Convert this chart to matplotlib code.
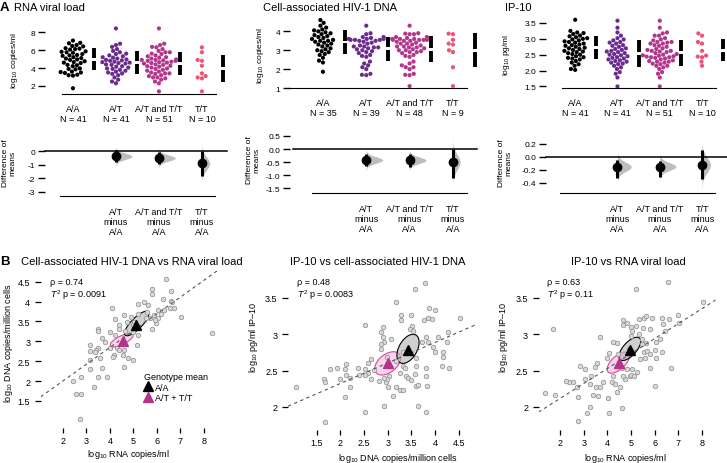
import numpy as np
import pandas as pd
import matplotlib
matplotlib.use("Agg")
import matplotlib.pyplot as plt
import seaborn as sns
from matplotlib.colors import to_rgba
from matplotlib.lines import Line2D
from matplotlib.ticker import FormatStrFormatter

plt.rcParams["font.family"] = ["Liberation Sans", "DejaVu Sans"]
plt.rcParams["mathtext.fontset"] = "custom"
plt.rcParams["mathtext.rm"] = "Liberation Sans"
plt.rcParams["mathtext.it"] = "Liberation Sans:italic"
plt.rcParams["axes.unicode_minus"] = False

W, H = 727, 464

groups = ["A/A", "A/T", "A/T and T/T", "T/T"]
colors = ["#000000", "#6b2a8f", "#b3358c", "#ef5272"]
diff_labels = ["A/T\nminus\nA/A", "A/T and T/T\nminus\nA/A", "T/T\nminus\nA/A"]

# --- panel A, log10 RNA copies/ml
aa_rna = [7.05, 6.8, 6.75, 6.55, 6.45, 6.4, 6.2, 6.15, 6.1, 6.05, 5.85, 5.8, 5.75, 5.7,
          5.55, 5.45, 5.4, 5.35, 5.2, 5.1, 5.05, 4.95, 4.9, 4.75, 4.65, 4.6, 4.55, 4.35,
          4.3, 4.2, 3.95, 3.9, 3.85, 3.6, 3.55, 3.5, 3.45, 3.25, 3.2, 3.15, 1.75]
at_rna = [8.4, 6.7, 6.55, 6.35, 6.1, 5.9, 5.75, 5.6, 5.55, 5.4, 5.3, 5.2, 5.15, 5.05,
          4.95, 4.9, 4.85, 4.8, 4.7, 4.65, 4.6, 4.55, 4.5, 4.4, 4.35, 4.2, 4.15, 4.05,
          3.95, 3.9, 3.8, 3.7, 3.6, 3.5, 3.4, 3.35, 3.2, 2.95, 2.7, 2.5, 2.3]
tt_rna = [6.3, 5.75, 4.9, 4.8, 4.25, 3.4, 3.1, 2.95, 2.85, 1.4]

# --- panel A, cell-associated HIV-1 DNA
aa_dna = [4.6, 4.45, 4.3, 4.2, 4.1, 4.05, 4.0, 3.95, 3.9, 3.85, 3.8, 3.75, 3.7, 3.65,
          3.6, 3.55, 3.5, 3.5, 3.45, 3.4, 3.35, 3.3, 3.25, 3.2, 3.1, 3.05, 3.0, 2.95,
          2.9, 2.8, 2.75, 2.6, 2.45, 2.35, 1.86]
at_dna = [4.3, 3.9, 3.85, 3.6, 3.6, 3.55, 3.55, 3.7, 3.7, 3.65, 3.6, 3.55, 3.5, 3.5,
          3.45, 3.4, 3.35, 3.25, 3.2, 3.2, 3.15, 3.15, 3.1, 3.05, 3.0, 2.95, 2.9, 2.85,
          2.75, 2.7, 2.65, 2.4, 2.3, 2.2, 2.1, 2.0, 1.75, 1.7, 1.68]
tt_dna = [3.88, 3.85, 3.55, 3.35, 3.3, 3.0, 2.9, 2.1, 1.1]

# --- panel A, IP-10 log10 pg/ml
aa_ip = [3.6, 3.25, 3.2, 3.18, 3.15, 3.1, 3.08, 3.05, 3.02, 3.0, 2.98, 2.95, 2.92, 2.9,
         2.88, 2.85, 2.82, 2.8, 2.78, 2.75, 2.72, 2.7, 2.68, 2.65, 2.62, 2.6, 2.58, 2.55,
         2.52, 2.5, 2.45, 2.42, 2.4, 2.38, 2.35, 2.3, 2.25, 2.2, 2.15, 2.05, 2.02]
at_ip = [3.57, 3.35, 3.2, 3.1, 3.02, 2.98, 2.95, 2.9, 2.88, 2.85, 2.8, 2.78, 2.75, 2.7,
         2.68, 2.65, 2.62, 2.6, 2.58, 2.55, 2.52, 2.5, 2.48, 2.45, 2.42, 2.4, 2.38, 2.35,
         2.32, 2.3, 2.28, 2.25, 2.22, 2.2, 2.15, 2.1, 2.05, 1.95, 1.9, 1.78, 1.5]
tt_ip = [3.17, 3.1, 2.9, 2.85, 2.62, 2.47, 2.44, 2.42, 2.28, 2.15]

# difference of means vs A/A and 95% CI (A/T, A/T and T/T, T/T)
diff_rna, lo_rna, hi_rna = [-0.37, -0.5, -0.9], [-0.82, -0.95, -1.85], [0.08, -0.07, 0.0]
diff_dna, lo_dna, hi_dna = [-0.42, -0.43, -0.5], [-0.66, -0.68, -1.1], [-0.18, -0.2, 0.0]
diff_ip, lo_ip, hi_ip = [-0.153, -0.15, -0.126], [-0.33, -0.31, -0.35], [-0.05, -0.07, 0.11]

# --- panel B, DNA vs RNA
b1_x = [6.38, 5.81, 6.59, 5.81, 5.46, 5.18, 6.27, 6.58, 6.65, 6.55, 6.73, 7.01, 4.10, 4.22,
        4.61, 4.90, 4.71, 4.39, 4.39, 4.64, 5.60, 5.88, 6.05, 5.70, 5.98, 5.81, 5.21, 5.04,
        5.06, 4.99, 5.18, 5.14, 5.53, 5.91, 8.34, 3.48, 3.16, 3.48, 3.65, 3.77, 4.01, 4.22,
        4.29, 4.19, 4.39, 4.60, 4.57, 4.61, 4.97, 4.75, 3.48, 3.41, 3.37, 3.16, 3.58, 3.13,
        3.65, 3.86, 3.48, 3.30, 3.16, 2.78, 2.41, 2.56, 2.78, 2.71, 4.01, 4.12, 4.97, 5.56,
        6.05, 6.31, 6.17]
b1_y = [4.56, 4.32, 4.27, 4.18, 3.98, 3.94, 4.06, 4.02, 3.98, 3.83, 3.83, 3.62, 3.83, 3.56,
        3.66, 3.60, 3.49, 3.41, 3.32, 3.26, 3.91, 3.66, 3.58, 3.58, 3.45, 3.32, 3.70, 3.49,
        3.37, 3.24, 3.16, 2.90, 3.58, 3.53, 3.20, 3.32, 2.92, 3.26, 3.09, 2.99, 3.24, 3.16,
        2.82, 2.65, 2.78, 2.78, 2.65, 2.36, 2.53, 2.57, 2.84, 2.78, 2.74, 2.75, 2.58, 2.53,
        2.32, 2.10, 2.11, 1.84, 2.30, 2.11, 2.00, 1.67, 1.68, 1.05, 2.82, 2.61, 3.42, 3.74,
        3.79, 3.79, 3.70]

# --- panel B, IP-10 vs DNA
b2_x = [3.80, 3.58, 3.18, 3.29, 3.29, 3.50, 3.77, 3.86, 3.93, 4.01, 3.87, 3.51, 3.48, 3.53,
        2.90, 2.86, 2.51, 2.90, 2.92, 2.85, 3.07, 3.81, 3.86, 3.73, 3.96, 4.01, 4.17, 4.25,
        4.53, 4.27, 4.06, 3.59, 3.59, 3.32, 3.32, 3.37, 2.86, 2.99, 3.18, 2.65, 2.58, 2.53,
        2.58, 2.72, 2.51, 2.39, 2.37, 2.11, 2.09, 2.12, 1.93, 1.78, 1.66, 1.68, 1.98, 2.21,
        2.21, 2.09, 1.06, 1.68, 2.52, 2.93, 3.12, 3.00, 2.97, 3.26, 3.02, 2.98, 3.17, 3.25,
        3.32, 3.39, 3.43, 3.50, 3.57, 3.60, 3.81, 3.81, 3.64, 3.84, 4.15, 4.29, 4.18, 3.65,
        3.81, 2.65, 2.92, 2.81]
b2_y = [3.71, 3.63, 3.45, 3.26, 3.19, 3.26, 3.19, 3.23, 3.21, 3.33, 3.36, 3.12, 3.07, 3.05,
        3.10, 3.03, 3.13, 2.96, 2.90, 2.86, 2.93, 2.96, 2.90, 2.89, 2.82, 2.75, 2.76, 2.89,
        3.23, 3.03, 2.96, 2.67, 2.57, 2.75, 2.56, 2.53, 2.80, 2.69, 2.63, 2.66, 2.61, 2.52,
        2.47, 2.51, 2.44, 2.44, 2.53, 2.59, 2.52, 2.44, 2.54, 2.52, 2.38, 2.34, 2.38, 2.40,
        2.28, 2.14, 2.28, 1.80, 1.93, 2.01, 2.15, 2.27, 2.34, 2.47, 2.42, 2.38, 2.27, 2.24,
        2.23, 2.43, 2.40, 2.37, 2.46, 2.29, 2.54, 2.43, 2.30, 2.29, 2.57, 2.53, 2.69, 2.01,
        1.93, 2.38, 2.40, 2.36]

# --- panel B, IP-10 vs RNA
b3_x = [6.56, 5.23, 8.04, 1.69, 3.69, 4.67, 4.64, 4.84, 5.02, 5.06, 5.23, 5.34, 5.54, 5.65,
        5.90, 6.33, 6.61, 6.99, 7.01, 6.35, 6.42, 5.82, 5.51, 5.34, 5.48, 5.65, 6.07, 6.21,
        5.02, 4.39, 4.22, 4.43, 4.92, 4.08, 3.97, 3.57, 3.47, 3.05, 2.84, 3.05, 3.29, 3.26,
        3.50, 3.69, 3.59, 3.40, 3.26, 3.12, 2.74, 2.53, 2.39, 2.25, 2.70, 1.79, 1.37, 4.25,
        4.21, 4.32, 4.53, 4.39, 4.74, 4.95, 5.02, 5.12, 5.26, 5.06, 4.81, 4.60, 5.37, 5.58,
        5.79, 5.55, 5.69, 5.79, 5.48, 6.00, 6.33, 6.07, 6.68, 6.03, 4.08, 4.60, 2.77, 4.04,
        3.83, 4.64]
b3_y = [3.72, 3.63, 3.45, 3.07, 2.96, 3.19, 3.13, 3.15, 3.10, 3.04, 3.12, 3.21, 3.23, 3.25,
        3.22, 3.23, 3.21, 3.26, 3.15, 3.14, 3.05, 3.07, 3.08, 3.00, 2.93, 2.88, 2.89, 2.93,
        2.98, 2.88, 2.90, 2.73, 2.80, 2.74, 2.67, 2.61, 2.55, 2.52, 2.56, 2.38, 2.42, 2.31,
        2.28, 2.28, 2.15, 2.16, 2.00, 1.92, 2.14, 2.34, 2.34, 2.36, 2.27, 2.17, 2.19, 2.43,
        2.34, 2.31, 2.27, 2.20, 2.38, 2.43, 2.44, 2.42, 2.48, 2.52, 2.52, 2.53, 2.66, 2.67,
        2.53, 2.76, 2.77, 2.73, 2.86, 2.79, 2.75, 2.68, 2.54, 2.29, 1.92, 1.99, 1.81, 2.13,
        2.34, 2.43]

# regression line (intercept, slope), genotype means and 95% ellipses (cx, cy, sx, sy, rho)
fit1, fit2, fit3 = (1.16, 0.422), (1.76, 0.282), (1.705, 0.206)
mean1 = [(5.1, 3.42), (4.54, 3.0)]
mean2 = [(3.43, 2.79), (3.0, 2.6)]
mean3 = [(4.95, 2.78), (4.5, 2.61)]
ell1 = [(5.14, 3.45, 0.52, 0.31, 0.8), (4.5, 3.03, 0.49, 0.17, 0.72)]
ell2 = [(3.43, 2.8, 0.235, 0.2, 0.45), (3.0, 2.6, 0.275, 0.16, 0.45)]
ell3 = [(4.95, 2.8, 0.46, 0.16, 0.65), (4.46, 2.61, 0.47, 0.145, 0.62)]
stats = [("0.74", "0.0091"), ("0.48", "0.0083"), ("0.63", "0.11")]
tri_colors = ["#000000", "#b5338a"]
ell_face = ["#b8b8b8", "#f3bfe0"]
ell_edge = ["#000000", "#d54a9f"]

fig = plt.figure(figsize=(W / 100, H / 100), dpi=100)


def add_ax(x0, y0, x1, y1):
    return fig.add_axes([x0 / W, 1 - y1 / H, (x1 - x0) / W, (y1 - y0) / H])


def ftext(x, y, s, **kw):
    kw.setdefault("va", "center")
    fig.text(x / W, 1 - y / H, s, **kw)


def swarm_panel(box, xlim, ylim, yticks, fmt, aa, at, tt, base):
    ax = add_ax(*box)
    ax.set_xlim(xlim)
    ax.set_ylim(ylim)
    vals = [aa, at, at + tt, tt]
    df = pd.DataFrame({"group": np.repeat(groups, [len(v) for v in vals]),
                       "value": np.concatenate(vals)})
    sns.swarmplot(data=df, x="group", y="value", hue="group", order=groups,
                  hue_order=groups, palette=colors, size=3.0, ax=ax, legend=False)
    ax.set_xlim(xlim)
    ax.set_ylim(ylim)
    gap = 0.02 * (ylim[1] - ylim[0])
    for i, v in enumerate(vals):
        m, s = np.mean(v), np.std(v, ddof=1)
        ax.vlines([i + 0.5] * 2, [m - s, m + gap], [m - gap, m + s], color="k", lw=2.8)
    ax.set_xticks(range(4))
    ax.set_xticklabels([f"{g}\nN = {len(v)}" for g, v in zip(groups, vals)],
                       fontsize=6.5, linespacing=1.15)
    ax.set_yticks(yticks)
    ax.yaxis.set_major_formatter(FormatStrFormatter(fmt))
    ax.tick_params(axis="x", length=0, pad=7)
    ax.tick_params(axis="y", length=5, width=1, labelsize=6, pad=2)
    for sp in ["top", "right", "left"]:
        ax.spines[sp].set_visible(False)
    ax.spines["bottom"].set_bounds(*base)
    ax.set_xlabel("")
    ax.set_ylabel("")
    return ax


def diff_panel(box, xlim, ylim, yticks, fmt, diffs, lo, hi, base, zspan):
    ax = add_ax(*box)
    sds = [(h - l) / 3.92 for l, h in zip(lo, hi)]
    for i, (d, l, h, s) in enumerate(zip(diffs, lo, hi, sds), start=1):
        yy = np.linspace(d - 4 * s, d + 4 * s, 150)
        w = 0.38 * min(sds) / s
        ax.fill_betweenx(yy, i, i + w * np.exp(-0.5 * ((yy - d) / s) ** 2),
                         color="#bdbdbd", lw=0)
        ax.vlines(i, l, h, color="k", lw=2.2)
        ax.plot(i, d, "o", color="k", ms=6)
    ax.axhline(0, zspan[0], zspan[1], color="k", lw=1.1, clip_on=False)
    ax.set_xlim(xlim)
    ax.set_ylim(ylim)
    ax.set_xticks([1, 2, 3])
    ax.set_xticklabels(diff_labels, fontsize=6.5, linespacing=1.15)
    ax.set_yticks(yticks)
    ax.yaxis.set_major_formatter(FormatStrFormatter(fmt))
    ax.tick_params(axis="x", length=0, pad=8)
    ax.tick_params(axis="y", length=5, width=1, labelsize=6, pad=2)
    for sp in ["top", "right", "left"]:
        ax.spines[sp].set_visible(False)
    ax.spines["bottom"].set_bounds(*base)
    return ax


def scatter_panel(box, x, y, xlim, ylim, xticks, yticks, fit, ells, means, st):
    ax = add_ax(*box)
    ax.plot(x, y, "o", ls="", ms=3.3, mfc="#d9d9d9", mec="#8c8c8c", mew=0.5)
    xs = np.array(xlim)
    ax.plot(xs, fit[0] + fit[1] * xs, ls=(0, (3, 3)), color="#555555", lw=0.8)
    t = np.linspace(0, 2 * np.pi, 120)
    for k in [1, 0]:
        cx, cy, sx, sy, r = ells[k]
        ex = cx + sx * np.cos(t)
        ey = cy + sy * (r * np.cos(t) + np.sqrt(1 - r * r) * np.sin(t))
        ax.fill(ex, ey, fc=to_rgba(ell_face[k], 0.65), ec=ell_edge[k], lw=0.8)
    for k in [1, 0]:
        ax.plot(*means[k], "^", color=tri_colors[k], ms=6.5)
    ax.set_xlim(xlim)
    ax.set_ylim(ylim)
    ax.set_xticks(xticks)
    ax.set_yticks(yticks)
    ax.xaxis.set_major_formatter(FormatStrFormatter("%g"))
    ax.yaxis.set_major_formatter(FormatStrFormatter("%g"))
    for sp in ax.spines.values():
        sp.set_visible(False)
    ax.spines["bottom"].set_position(("outward", 4.5))
    ax.tick_params(axis="x", length=3.8, width=0.9, labelsize=6.5, pad=2)
    ax.tick_params(axis="y", length=4.5, width=0.9, labelsize=6.5, pad=3)
    ax.text(0.05, 0.93, f"\u03c1 = {st[0]}", transform=ax.transAxes, fontsize=6.5, va="center")
    ax.text(0.05, 0.85, f"$T^2$ p = {st[1]}", transform=ax.transAxes, fontsize=6.5, va="center")
    return ax


# ---- panel A top row
swarm_panel((45, 26, 235, 95), (-0.65, 3.77), (1.11, 8.78), [2, 4, 6, 8], "%d",
            aa_rna, at_rna, tt_rna, (-0.26, 3.33))
swarm_panel((290, 18, 485, 89), (-0.76, 3.74), (1.0, 4.76), [1, 2, 3, 4], "%d",
            aa_dna, at_dna, tt_dna, (-0.76, 3.32))
swarm_panel((546, 16, 727, 89), (-0.69, 3.59), (1.45, 3.75), [1.5, 2.0, 2.5, 3.0, 3.5], "%.1f",
            aa_ip, at_ip, tt_ip, (-0.31, 3.33))

# ---- panel A bottom row
diff_panel((45, 140, 235, 197), (-0.65, 3.77), (-3.33, 0.92), [-3, -2, -1, 0], "%d",
           diff_rna, lo_rna, hi_rna, (-0.3, 3.3), (0.0, 0.96))
diff_panel((290, 133, 485, 194), (-0.76, 3.74), (-1.68, 0.65), [-1.5, -1.0, -0.5, 0.0, 0.5], "%.1f",
           diff_dna, lo_dna, hi_dna, (-0.25, 3.32), (0.015, 0.96))
diff_panel((546, 135, 727, 194), (-0.69, 3.59), (-0.56, 0.355), [-0.4, -0.2, 0.0, 0.2], "%.1f",
           diff_ip, lo_ip, hi_ip, (-0.35, 3.31), (0.0, 1.0))

# ---- panel B
ax7 = scatter_panel((40.7, 272, 218, 423), b1_x, b1_y, (1.05, 8.6), (0.97, 4.77),
                    range(2, 9), [1.5, 2, 2.5, 3, 3.5, 4, 4.5], fit1, ell1, mean1, stats[0])
scatter_panel((288, 272, 477, 425), b2_x, b2_y, (0.89, 4.89), (1.766, 3.871),
              [1.5, 2, 2.5, 3, 3.5, 4, 4.5], [2, 2.5, 3, 3.5], fit2, ell2, mean2, stats[1])
scatter_panel((538.5, 272, 715.5, 425), b3_x, b3_y, (1.09, 8.57), (1.766, 3.871),
              range(2, 9), [2, 2.5, 3, 3.5], fit3, ell3, mean3, stats[2])

handles = [Line2D([], [], marker="^", ls="", color=c, ms=6.5) for c in tri_colors]
ax7.legend(handles, ["A/A", "A/T + T/T"], title="Genotype mean", loc="upper left",
           bbox_to_anchor=(0.58, 0.33), frameon=False, fontsize=6.5, title_fontsize=6.5,
           alignment="left", handletextpad=0.3, labelspacing=0.15, borderpad=0,
           handlelength=1.0, borderaxespad=0)

# ---- texts
ftext(0, 8, "A", fontsize=9.5, fontweight="bold")
ftext(14, 8, "RNA viral load", fontsize=8)
ftext(263, 8, "Cell-associated HIV-1 DNA", fontsize=8)
ftext(505, 8, "IP-10", fontsize=8)
ftext(0, 262, "B", fontsize=9.5, fontweight="bold")
ftext(21, 262, "Cell-associated HIV-1 DNA vs RNA viral load", fontsize=8)
ftext(378, 262, "IP-10 vs cell-associated HIV-1 DNA", fontsize=8, ha="center")
ftext(628, 262, "IP-10 vs RNA viral load", fontsize=8, ha="center")

ftext(15, 60, "log$_{10}$ copies/ml", fontsize=6, rotation=90, ha="center")
ftext(261, 55, "log$_{10}$ copies/ml", fontsize=6, rotation=90, ha="center")
ftext(506, 55, "log$_{10}$ pg/ml", fontsize=6, rotation=90, ha="center")
for x, y in [(9, 163), (253, 160), (505, 163)]:
    ftext(x, y, "Difference of\nmeans", fontsize=6, rotation=90, ha="center",
          linespacing=1.0)

ftext(9, 343, "log$_{10}$ DNA copies/million cells", fontsize=6.5, rotation=90, ha="center")
ftext(254, 337, "log$_{10}$ pg/ml IP\u201310", fontsize=6.5, rotation=90, ha="center")
ftext(503, 337, "log$_{10}$ pg/ml IP\u201310", fontsize=6.5, rotation=90, ha="center")
ftext(128, 455, "log$_{10}$ RNA copies/ml", fontsize=6.5, ha="center")
ftext(398, 459, "log$_{10}$ DNA copies/million cells", fontsize=6.5, ha="center")
ftext(625, 459, "log$_{10}$ RNA copies/ml", fontsize=6.5, ha="center")

fig.savefig("out.png", dpi=100)
